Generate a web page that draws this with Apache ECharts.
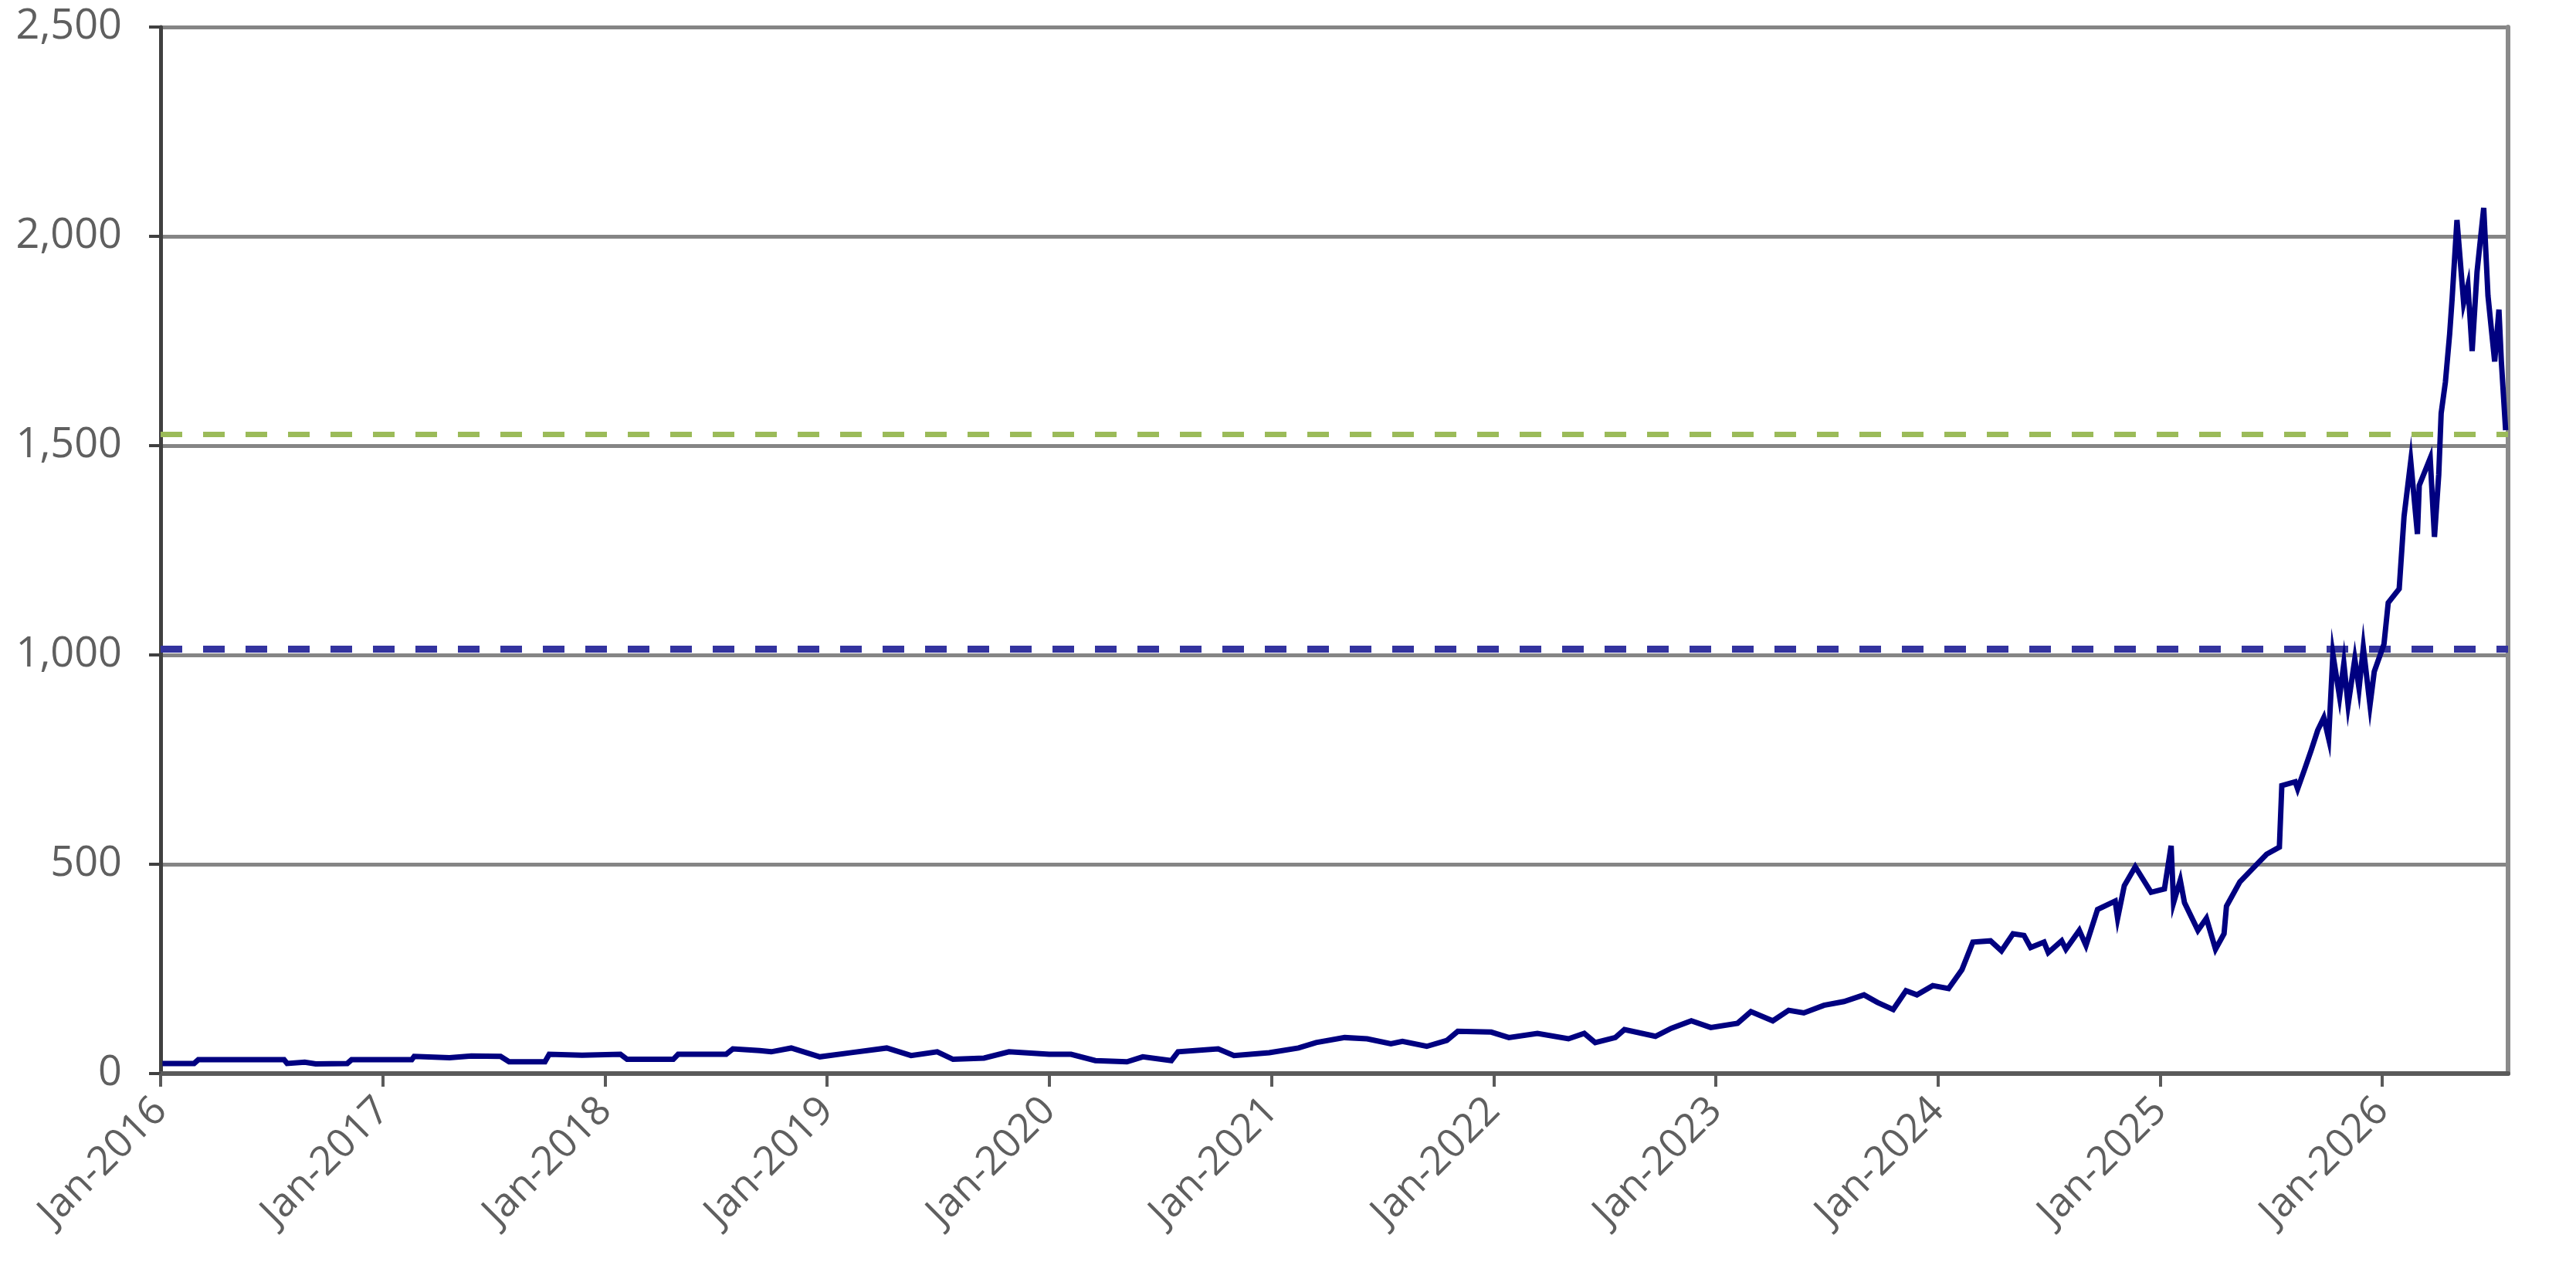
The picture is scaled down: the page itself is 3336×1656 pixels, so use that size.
<!DOCTYPE html>
<html>
<head>
<meta charset="utf-8">
<title>Price history</title>
<script src="https://cdn.jsdelivr.net/npm/echarts@6/dist/echarts.min.js"></script>
<style>
  html, body { margin: 0; padding: 0; background: #fff; }
  #chart { width: 3336px; height: 1656px; }
</style>
</head>
<body>
<div id="chart"></div>
<script>
// price points (date, close)
const obsDates = [
  '2016-01-04','2016-02-25','2016-03-03','2016-07-22','2016-07-27','2016-08-25','2016-09-12','2016-11-03','2016-11-10',
  '2017-02-17','2017-02-21','2017-04-20','2017-05-26','2017-07-13','2017-07-27','2017-09-24','2017-10-01','2017-11-24',
  '2018-01-26','2018-02-06','2018-04-23','2018-05-01','2018-07-19','2018-07-30','2018-09-12','2018-10-01','2018-11-03','2018-12-20',
  '2019-02-10','2019-04-09','2019-05-19','2019-07-01','2019-07-27','2019-09-16','2019-10-27',
  '2020-01-01','2020-02-06','2020-03-17','2020-05-08','2020-06-03','2020-07-20','2020-07-31','2020-10-05','2020-10-31','2020-12-28',
  '2021-02-14','2021-03-15','2021-05-01','2021-06-07','2021-07-16','2021-08-04','2021-09-13','2021-10-16','2021-11-03','2021-12-28',
  '2022-01-26','2022-03-14','2022-05-04','2022-05-30','2022-06-17','2022-07-20','2022-08-04','2022-09-24','2022-10-20','2022-11-22','2022-12-24',
  '2023-02-06','2023-02-28','2023-04-05','2023-05-01','2023-05-26','2023-06-28','2023-07-31','2023-09-02','2023-09-24','2023-10-20','2023-11-10','2023-11-28','2023-12-24',
  '2024-01-19','2024-02-10','2024-02-28','2024-03-28','2024-04-15','2024-05-04','2024-05-22','2024-06-02','2024-06-24','2024-07-01','2024-07-23','2024-07-30',
  '2024-08-21','2024-09-01','2024-09-20','2024-10-19','2024-10-23','2024-11-03','2024-11-21','2024-12-17',
  '2025-01-08','2025-01-19','2025-01-23','2025-02-03','2025-02-10','2025-03-04','2025-03-18','2025-04-02','2025-04-16','2025-04-20','2025-05-12','2025-06-03','2025-06-25',
  '2025-07-16','2025-07-20','2025-08-11','2025-08-15','2025-08-26','2025-09-06','2025-09-17','2025-09-27','2025-10-05','2025-10-12','2025-10-23','2025-10-30',
  '2025-11-06','2025-11-17','2025-11-24','2025-12-01','2025-12-12','2025-12-19',
  '2026-01-04','2026-01-11','2026-01-29','2026-02-06','2026-02-17','2026-02-28','2026-03-03','2026-03-21','2026-03-28','2026-04-04','2026-04-08','2026-04-15',
  '2026-04-22','2026-04-26','2026-05-04','2026-05-15','2026-05-22','2026-05-29','2026-06-06','2026-06-17','2026-06-24','2026-07-05','2026-07-12','2026-07-16','2026-07-23'
]
const closePrices = [
  24, 24, 33, 33, 24, 27, 23, 24, 33,
  33, 41, 38, 42, 41, 28, 28, 46, 44,
  46, 34, 34, 46, 46, 59, 55, 52, 61, 40,
  50, 61, 43, 52, 34, 37, 52,
  46, 46, 31, 28, 40, 31, 52, 59, 43, 50,
  61, 74, 86, 83, 71, 77, 65, 79, 101, 99,
  86, 96, 83, 96, 74, 86, 105, 89, 108, 126, 110,
  120, 148, 126, 151, 145, 163, 172, 188, 170, 153, 198, 188, 210,
  203, 248, 314, 317, 293, 334, 330, 301, 314, 289, 317, 297,
  342, 306, 392, 412, 371, 449, 494, 433,
  441, 544, 408, 462, 408, 342, 371, 297, 334, 400, 458, 491, 524,
  541, 688, 697, 680, 725, 771, 820, 850, 800, 1002, 900, 980,
  880, 990, 920, 1018, 880, 960,
  1026, 1125, 1158, 1331, 1463, 1289, 1405, 1470, 1282, 1430, 1577, 1652,
  1767, 1850, 2039, 1841, 1883, 1726, 1915, 2068, 1858, 1701, 1825, 1701, 1537
]

// the two dashed reference levels
const upperLevel = 1527   // green
const lowerLevel = 1014   // blue

const xStart = '2016-01-01'
const xEnd = '2026-07-27'
const yMax = 2500
const yStep = 500

const monthNames = ['Jan','Feb','Mar','Apr','May','Jun','Jul','Aug','Sep','Oct','Nov','Dec']

const seriesData = obsDates.map((d, i) => [d, closePrices[i]])

const myChart = echarts.init(document.getElementById('chart'), null, { renderer: 'canvas', devicePixelRatio: 1 })

const labelFont = '"Open Sans", "Noto Sans", sans-serif'

myChart.setOption({
  animation: false,
  backgroundColor: '#ffffff',
  grid: { left: 208, right: 88, top: 35, bottom: 266, containLabel: false },
  xAxis: {
    type: 'time',
    min: xStart,
    max: xEnd,
    splitNumber: 10,
    axisLine: { show: true, onZero: false, lineStyle: { color: '#5a5a5a', width: 6 } },
    axisTick: { show: true, length: 17, lineStyle: { color: '#5a5a5a', width: 4 } },
    splitLine: { show: false },
    axisLabel: {
      rotate: 45,
      margin: 40,
      color: '#5f5f5f',
      fontSize: 52,
      fontFamily: labelFont,
      hideOverlap: false,
      showMaxLabel: false,
      formatter: function (v) {
        const d = new Date(v)
        return monthNames[d.getMonth()] + '-' + d.getFullYear()
      }
    }
  },
  yAxis: [{
    type: 'value',
    min: 0,
    max: yMax,
    interval: yStep,
    axisLine: { show: true, lineStyle: { color: '#404040', width: 5 } },
    axisTick: { show: true, length: 15, lineStyle: { color: '#404040', width: 4 } },
    splitLine: { show: true, lineStyle: { color: '#858585', width: 5 } },
    axisLabel: {
      margin: 50,
      color: '#5f5f5f',
      fontSize: 54,
      fontFamily: labelFont,
      formatter: v => v.toLocaleString('en-US')
    }
  }, {
    // right frame
    type: 'value',
    position: 'right',
    min: 0,
    max: yMax,
    interval: yStep,
    axisLine: { show: true, lineStyle: { color: '#8a8a8a', width: 6 } },
    axisTick: { show: false },
    axisLabel: { show: false },
    splitLine: { show: false }
  }],
  series: [{
    name: 'Price',
    type: 'line',
    data: seriesData,
    showSymbol: false,
    symbol: 'none',
    lineStyle: { color: '#000080', width: 7, join: 'miter' },
    z: 3,
    markLine: {
      silent: true,
      symbol: ['none', 'none'],
      label: { show: false },
      z: 2,
      data: [
        { yAxis: upperLevel, lineStyle: { color: '#9bbb59', width: 7, type: [28, 27] } },
        { yAxis: lowerLevel, lineStyle: { color: '#33339f', width: 9, type: [28, 27] } }
      ]
    }
  }]
})

window.addEventListener('resize', myChart.resize)
</script>
</body>
</html>
